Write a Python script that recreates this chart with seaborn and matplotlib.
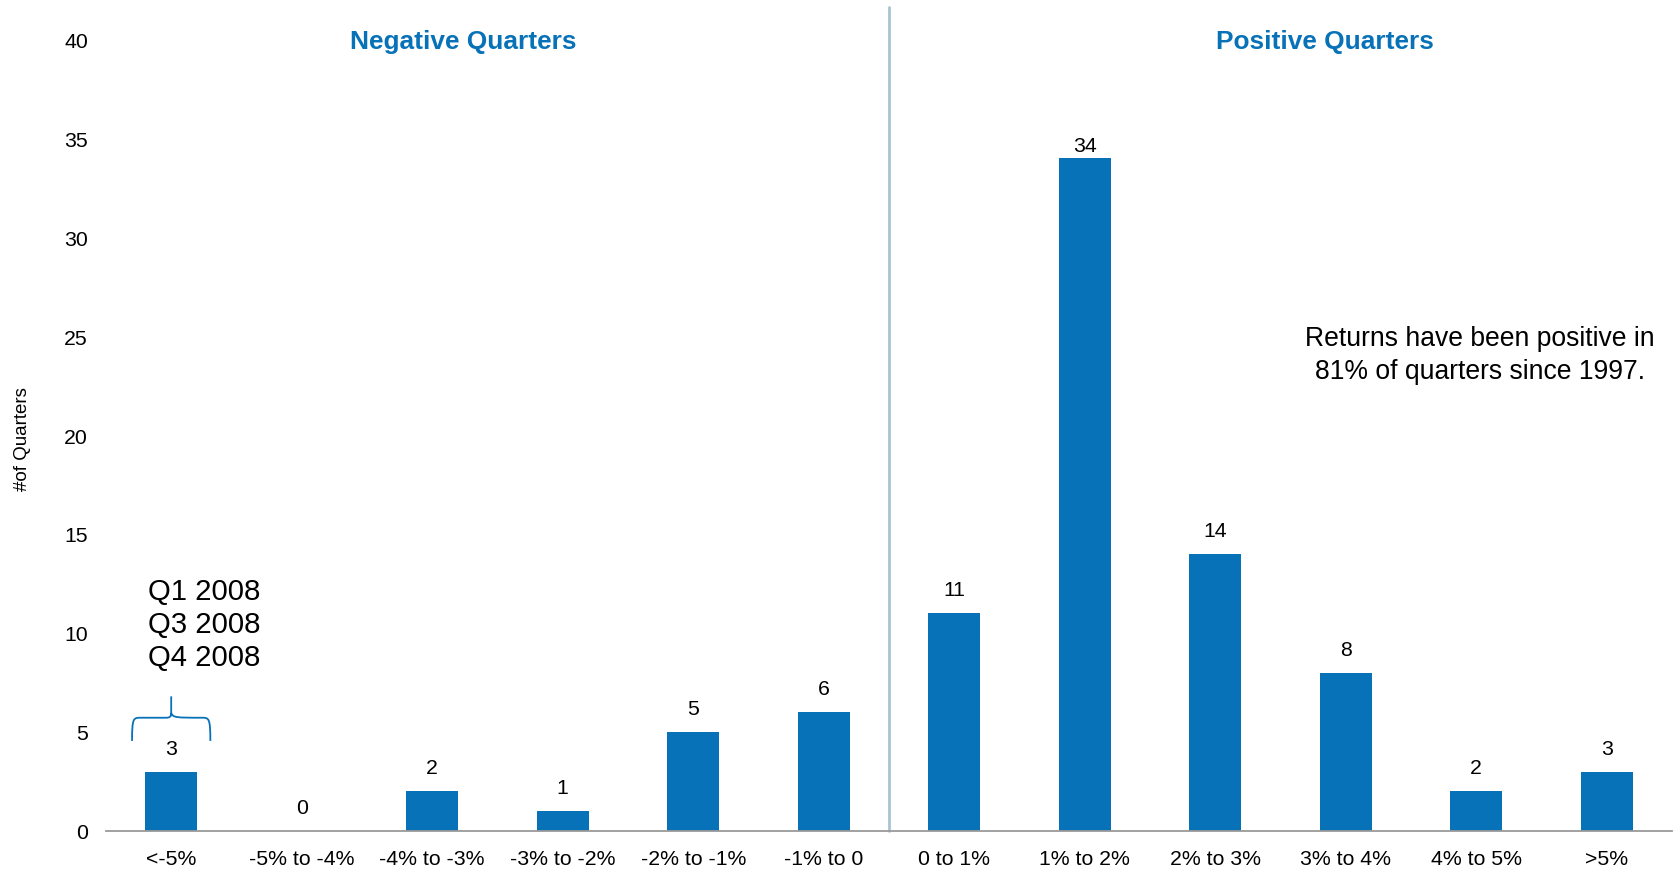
import matplotlib
matplotlib.use("Agg")
import matplotlib.pyplot as plt
from matplotlib.path import Path
from matplotlib.patches import PathPatch
import seaborn as sns
import pandas as pd

# Distribution of quarterly returns since 1997
categories = ["<-5%", "-5% to -4%", "-4% to -3%", "-3% to -2%", "-2% to -1%", "-1% to 0",
              "0 to 1%", "1% to 2%", "2% to 3%", "3% to 4%", "4% to 5%", ">5%"]
quarters = [3, 0, 2, 1, 5, 6, 11, 34, 14, 8, 2, 3]
y_ticks = [0, 5, 10, 15, 20, 25, 30, 35, 40]
worst_quarters = ["Q1 2008", "Q3 2008", "Q4 2008"]

BLUE = "#0872b8"
DIVIDER = "#a7c3d3"

sns.set_theme(style="white")
plt.rcParams["font.family"] = ["Liberation Sans", "DejaVu Sans"]
plt.rcParams["text.color"] = "black"

df = pd.DataFrame({"bucket": categories, "count": quarters})

fig = plt.figure(figsize=(16.79, 8.70), dpi=100)
ax = fig.add_axes([0.0631, 0.0437, 0.9327, 0.9103])

sns.barplot(data=df, x="bucket", y="count", color=BLUE, width=0.4,
            saturation=1, ax=ax, edgecolor="none")

ax.set_xlim(-0.5, len(categories) - 0.5)
ax.set_ylim(0, 40)
ax.set_yticks(y_ticks)
ax.tick_params(axis="both", length=0, labelsize=15.3, colors="black")
ax.tick_params(axis="x", pad=13)
ax.tick_params(axis="y", pad=13)
for s in ["top", "right", "left"]:
    ax.spines[s].set_visible(False)
ax.spines["bottom"].set_color("#9a9a9a")
ax.spines["bottom"].set_linewidth(1.3)

ax.set_xlabel("")
ax.set_ylabel("#of Quarters", fontsize=13.5, color="black")
ax.yaxis.set_label_coords(-0.048, 0.496)

# value labels above each bar; the tallest one sits closer to its bar
top = max(quarters)
for rect, v in zip(ax.patches, quarters):
    pad = 2 if v == top else 10
    ax.annotate(str(v), (rect.get_x() + rect.get_width() / 2, rect.get_height()),
                xytext=(0, pad), textcoords="offset points",
                ha="center", va="bottom", fontsize=15.3, color="black")

# divider between negative and positive buckets
ax.plot([5.5, 5.5], [0, 41.6], color=DIVIDER, lw=2, clip_on=False, zorder=0)

ax.text(2.24, 39.9, "Negative Quarters", color=BLUE, fontsize=18.9, fontweight="bold",
        ha="center", va="center")
ax.text(8.84, 39.9, "Positive Quarters", color=BLUE, fontsize=18.9, fontweight="bold",
        ha="center", va="center")

ax.text(10.03, 24.05, "Returns have been positive in\n81% of quarters since 1997.",
        fontsize=19.1, ha="center", va="center", linespacing=1.36, color="black")

ax.text(0.25, 10.45, "\n".join(worst_quarters), fontsize=21.2, ha="center",
        va="center", linespacing=1.22, color="black")

# curly brace over the first bar
bx0, bx1, bc = -0.3, 0.3, 0.0
yb, ym, yt = 4.55, 5.72, 6.8
verts = [
    (bx0, yb), (bx0, ym - 0.05), (bx0 + 0.01, ym), (bx0 + 0.06, ym),
    (bc - 0.04, ym),
    (bc - 0.01, ym), (bc, ym + 0.05), (bc, ym + 0.25),
    (bc, yt),
    (bc, ym + 0.25), (bc + 0.01, ym), (bc + 0.04, ym),
    (bx1 - 0.06, ym),
    (bx1 - 0.01, ym), (bx1, ym - 0.05), (bx1, yb),
]
codes = [Path.MOVETO, Path.CURVE4, Path.CURVE4, Path.CURVE4,
         Path.LINETO,
         Path.CURVE4, Path.CURVE4, Path.CURVE4,
         Path.LINETO,
         Path.MOVETO, Path.CURVE4, Path.CURVE4,
         Path.LINETO,
         Path.CURVE4, Path.CURVE4, Path.CURVE4]
ax.add_patch(PathPatch(Path(verts, codes), facecolor="none", edgecolor=BLUE, lw=1.3))

fig.savefig("out.png", dpi=100)
